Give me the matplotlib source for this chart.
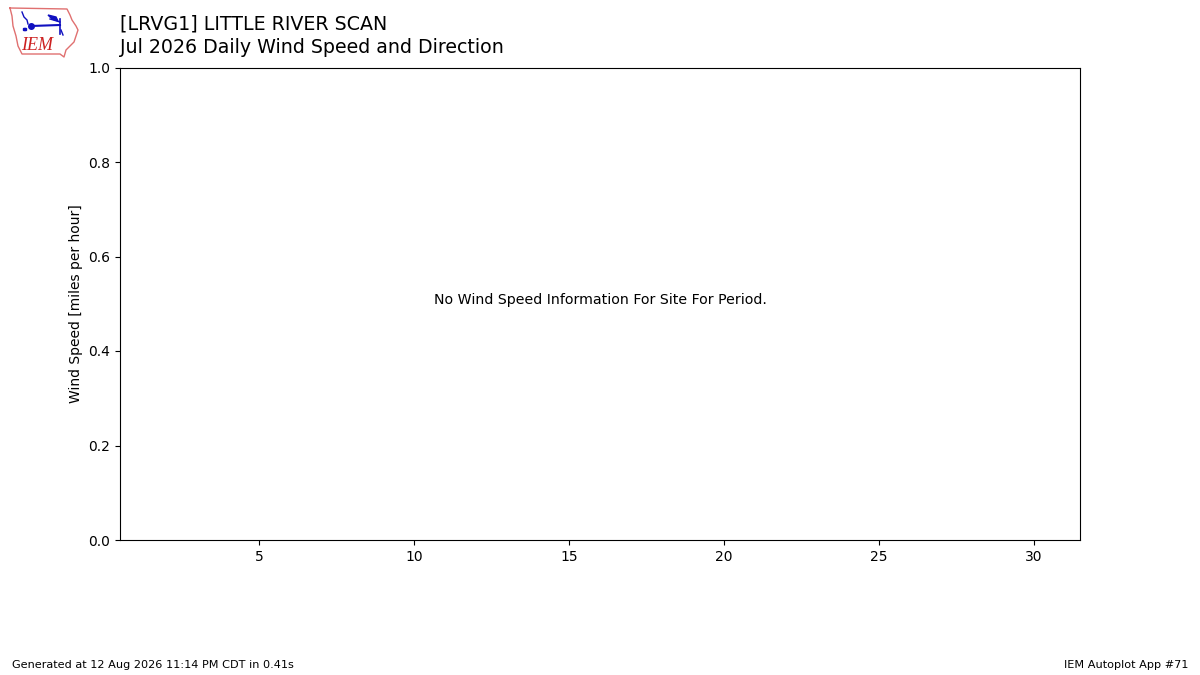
import matplotlib
matplotlib.use("Agg")
import matplotlib.pyplot as plt

# Data / text
title_line1 = "[LRVG1] LITTLE RIVER SCAN"
title_line2 = "Jul 2026 Daily Wind Speed and Direction"
ylabel = "Wind Speed [miles per hour]"
message = "No Wind Speed Information For Site For Period."
footer_left = "Generated at 12 Aug 2026 11:14 PM CDT in 0.41s"
footer_right = "IEM Autoplot App #71"
xticks = [5, 10, 15, 20, 25, 30]
yticks = [0.0, 0.2, 0.4, 0.6, 0.8, 1.0]
xlim = (0.5, 31.5)
ylim = (0.0, 1.0)

fig = plt.figure(figsize=(12, 6.75), dpi=100)

# Logo layer in pixel coordinates
lg = fig.add_axes([0, 0, 1, 1], zorder=-1)
lg.set_xlim(0, 1200)
lg.set_ylim(675, 0)
lg.axis("off")
outline_x = [10, 67, 70, 72, 76, 78, 76, 74, 70, 66, 64, 60, 22, 18, 16, 13, 12, 10]
outline_y = [8, 9, 15, 20, 26, 30, 36, 42, 46, 50, 57, 54, 54, 46, 36, 26, 16, 8]
lg.plot(outline_x, outline_y, color="#e07070", lw=1)
blue = "#1010c0"
lg.plot([31, 60], [26, 25], color=blue, lw=1.5)
lg.plot([31], [26], "o", color=blue, ms=4)
lg.plot([60, 60], [19, 34], color=blue, lw=1.2)
lg.fill([48, 56, 58, 52], [15, 17, 21, 19], color=blue)
lg.plot([50, 60], [19, 22], color=blue, lw=1)
lg.plot([22, 24, 27, 28], [12, 17, 20, 24], color=blue, lw=1)
lg.plot([61, 63], [30, 35], color=blue, lw=1)
lg.plot([24, 25], [29, 29], "s", color=blue, ms=1.5)
lg.text(37, 45, "IEM", color="#cc2020", fontsize=13, family="Liberation Serif",
        style="italic", ha="center", va="center")

ax = fig.add_axes([0.1, 0.2, 0.8, 0.7])
ax.set_xlim(*xlim)
ax.set_ylim(*ylim)
ax.set_xticks(xticks)
ax.set_yticks(yticks)
ax.set_ylabel(ylabel)
ax.text(0.5, 0.5, message, transform=ax.transAxes, ha="center", fontsize=10.2)

fig.text(0.1, 0.964, title_line1, fontsize=13.65, va="center", ha="left")
fig.text(0.1, 0.929, title_line2, fontsize=13.65, va="center", ha="left")
fig.text(0.01, 0.015, footer_left, fontsize=8.15, va="center", ha="left")
fig.text(0.99, 0.015, footer_right, fontsize=8.15, va="center", ha="right")

fig.savefig("out.png", dpi=100)
